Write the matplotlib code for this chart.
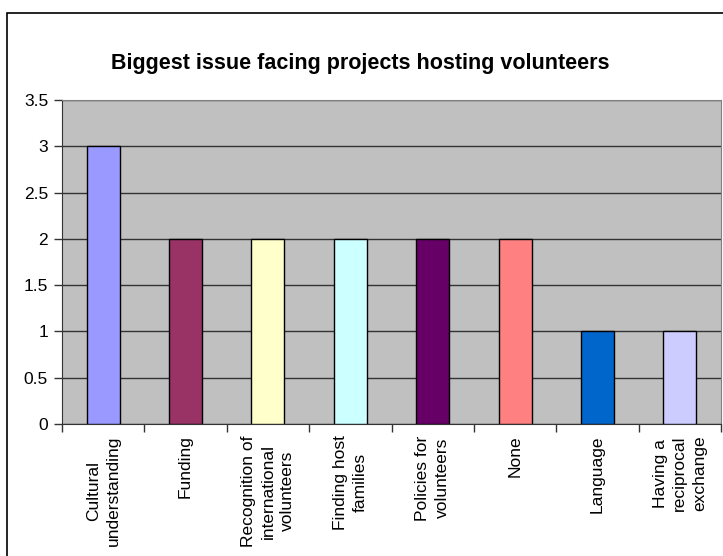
import matplotlib
matplotlib.use("Agg")
import matplotlib.pyplot as plt
from matplotlib.patches import Rectangle
import numpy as np

plt.rcParams['font.family'] = ['Liberation Sans', 'DejaVu Sans']

categories = [
    "Cultural\nunderstanding",
    "Funding",
    "Recognition of\ninternational\nvolunteers",
    "Finding host\nfamilies",
    "Policies for\nvolunteers",
    "None",
    "Language",
    "Having a\nreciprocal\nexchange",
]
counts = [3, 2, 2, 2, 2, 2, 1, 1]
bar_colors = ["#9999FF", "#993366", "#FFFFCC", "#CCFFFF",
              "#660066", "#FF8080", "#0066CC", "#CCCCFF"]
yticks = [0, 0.5, 1, 1.5, 2, 2.5, 3, 3.5]

W, H = 723, 556
fig = plt.figure(figsize=(W / 100, H / 100), dpi=100)
ax = fig.add_axes([62 / W, (H - 424) / H, (721 - 62) / W, (424 - 100) / H])

# outer chart frame
fig.patches.append(Rectangle((7 / W, -0.1), 1.2, 1.1 - 13 / H,
                             transform=fig.transFigure, fill=False,
                             edgecolor="black", linewidth=1.2))

x = np.arange(len(categories))
ax.set_facecolor("#C0C0C0")
ax.bar(x, counts, width=0.4, color=bar_colors, edgecolor="black",
       linewidth=1.0, zorder=3)

ax.set_xlim(-0.5, len(categories) - 0.5)
ax.set_ylim(0, 3.5)
ax.set_yticks(yticks)
ax.set_yticklabels([f"{v:g}" for v in yticks], fontsize=12.5)
ax.yaxis.grid(True, color="#333333", linewidth=1.0, zorder=1)
ax.set_axisbelow(True)

ax.set_xticks(x)
ax.set_xticklabels([])
ax.set_xticks(np.arange(len(categories) + 1) - 0.5, minor=True)
ax.tick_params(axis="x", which="major", length=0)
ax.tick_params(axis="x", which="minor", length=6, width=1, color="#333333")
ax.tick_params(axis="y", length=6, width=1, color="#333333", pad=4)

for xi, lab in zip(x, categories):
    ax.text(xi, -0.035, lab, transform=ax.get_xaxis_transform(),
            rotation=90, ha="center", va="top", multialignment="center",
            fontsize=12.5, linespacing=1.4)

for side in ["top", "right"]:
    ax.spines[side].set_color("#808080")
for side in ["left", "bottom"]:
    ax.spines[side].set_color("#333333")

fig.text(360 / W, 1 - 64 / H, "Biggest issue facing projects hosting volunteers",
         ha="center", va="center", fontsize=15.5, fontweight="bold")

fig.savefig("out.png", dpi=100)
